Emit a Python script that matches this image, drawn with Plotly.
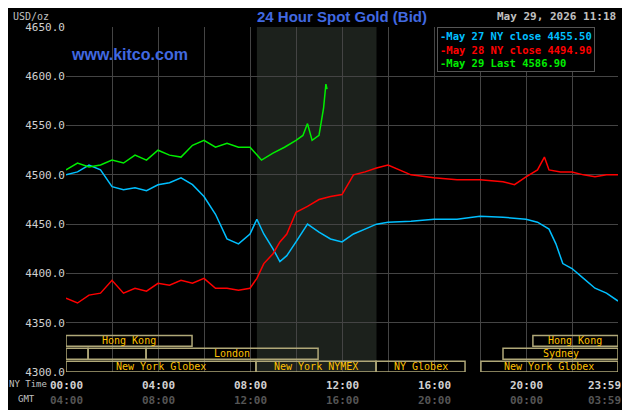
import plotly.graph_objects as go

hours_c = [0,0.5,1,1.5,2,2.5,3,3.5,4,4.5,5,5.5,6,6.5,7,7.5,8,8.3,8.6,9,9.3,9.6,10,10.5,11,11.5,12,12.5,13,13.5,14,15,16,17,18,19,20,20.5,21,21.3,21.6,22,22.5,23,23.5,24]
may27 = [4500,4503,4510,4505,4488,4485,4487,4484,4490,4492,4497,4490,4478,4460,4435,4430,4440,4455,4440,4425,4412,4418,4432,4450,4442,4435,4432,4440,4445,4450,4452,4453,4455,4455,4458,4457,4455,4452,4445,4430,4410,4405,4395,4385,4380,4372]
hours_r = [0,0.5,1,1.5,2,2.5,3,3.5,4,4.5,5,5.5,6,6.5,7,7.5,8,8.3,8.6,9,9.3,9.6,10,10.5,11,11.5,12,12.5,13,13.5,14,14.5,15,16,17,18,19,19.5,20,20.5,20.8,21,21.5,22,22.5,23,23.5,24]
may28 = [4375,4370,4378,4380,4393,4380,4385,4382,4390,4388,4393,4390,4395,4385,4385,4383,4385,4395,4410,4420,4432,4440,4462,4468,4475,4478,4480,4500,4503,4507,4510,4505,4500,4497,4495,4495,4493,4490,4498,4505,4518,4505,4503,4503,4500,4498,4500,4500]
hours_g = [0,0.5,1,1.5,2,2.5,3,3.5,4,4.5,5,5.5,6,6.5,7,7.5,8,8.5,9,9.5,10,10.3,10.5,10.7,11,11.2,11.3,11.35]
may29 = [4505,4512,4508,4510,4515,4512,4520,4515,4525,4520,4518,4530,4535,4528,4532,4528,4528,4515,4522,4528,4535,4540,4552,4535,4540,4568,4592,4587]

y_ticks = [4300,4350,4400,4450,4500,4550,4600,4650]
ny_labels = ["00:00","04:00","08:00","12:00","16:00","20:00","23:59"]
gmt_labels = ["04:00","08:00","12:00","16:00","20:00","00:00","03:59"]
label_pos = [0,4,8,12,16,20,24]

sessions = [  # (row, start, end, name)
    (0,0,5.48,"Hong Kong"),(0,20.3,24,"Hong Kong"),
    (1,0,0.96,""),(1,0.96,3.48,""),(1,3.48,10.96,"London"),(1,19,24,"Sydney"),
    (2,0,8.26,"New York Globex"),(2,8.26,13.48,"New York NYMEX"),(2,13.48,17.35,"NY Globex"),(2,18.04,24,"New York Globex"),
]

mono = "DejaVu Sans Mono"
fig = go.Figure()
fig.add_trace(go.Scatter(x=hours_c, y=may27, mode="lines", line=dict(color="#00bfff", width=1.5)))
fig.add_trace(go.Scatter(x=hours_r, y=may28, mode="lines", line=dict(color="#ff0000", width=1.5)))
fig.add_trace(go.Scatter(x=hours_g, y=may29, mode="lines", line=dict(color="#00ee00", width=1.5)))

shapes = [dict(type="rect", xref="x", yref="y", x0=8.3, x1=13.5, y0=4300, y1=4650,
               fillcolor="#1c211c", line_width=0, layer="below")]
row_y = [(4337,4326),(4324,4313),(4311,4300)]
ann = []
for r, s, e, n in sessions:
    y1, y0 = row_y[r]
    shapes.append(dict(type="rect", xref="x", yref="y", x0=s, x1=e, y0=y0, y1=y1,
                       line=dict(color="#b0a878", width=1.5), fillcolor="rgba(0,0,0,0)"))
    if n:
        ann.append(dict(x=(s+e)/2, y=(y0+y1)/2, text=n, showarrow=False, xref="x", yref="y",
                        font=dict(family=mono, size=10, color="#ffc000")))
for p, a, b in zip(label_pos, ny_labels, gmt_labels):
    xs = -14 if p == 24 else 0
    ann.append(dict(x=p, y=-0.015, xref="x", yref="paper", text="<b>"+a+"</b>", showarrow=False,
                    xshift=xs, xanchor="center", font=dict(family=mono, size=11, color="#d0d0d0"), yanchor="top"))
    ann.append(dict(x=p, y=-0.058, xref="x", yref="paper", text="<b>"+b+"</b>", showarrow=False,
                    xshift=xs, xanchor="center", font=dict(family=mono, size=11, color="#555555"), yanchor="top"))
ann += [
    dict(x=-0.107, y=-0.015, xref="paper", yref="paper", text="NY Time", showarrow=False, xanchor="left",
         yanchor="top", font=dict(family=mono, size=9, color="#c0c0c0")),
    dict(x=-0.09, y=-0.058, xref="paper", yref="paper", text="GMT", showarrow=False, xanchor="left",
         yanchor="top", font=dict(family=mono, size=9, color="#c0c0c0")),
]
fig.update_layout(
    width=622, height=402, paper_bgcolor="black", plot_bgcolor="black", showlegend=False,
    margin=dict(l=58, r=12, t=19, b=38),
    xaxis=dict(range=[0,24], tickvals=list(range(0,25,2)), showticklabels=False,
               gridcolor="#444444", showline=False, zeroline=False),
    yaxis=dict(range=[4300,4650], tickvals=y_ticks, tickformat=".1f", gridcolor="#444444",
               zeroline=False, tickfont=dict(family=mono, size=11, color="#d0d0d0"), ticks=""),
    shapes=shapes, annotations=ann,
)
fig.add_annotation(x=0.5, y=1.0, xref="paper", yref="paper", yshift=0, text="<b>24 Hour Spot Gold (Bid)</b>",
                   showarrow=False, yanchor="bottom", font=dict(family="Liberation Sans", size=15, color="#4169e1"))
fig.add_annotation(x=-0.1, y=1.0, xref="paper", yref="paper", yshift=3, text="USD/oz", showarrow=False,
                   xanchor="left", yanchor="bottom", font=dict(family=mono, size=10, color="#c0c0c0"))
fig.add_annotation(x=0.005, y=0.95, xref="paper", yref="paper", text="<b>www.kitco.com</b>", showarrow=False,
                   xanchor="left", yanchor="top", font=dict(family="Liberation Sans", size=16, color="#4169e1"))
fig.add_annotation(x=1.0, y=1.0, xref="paper", yref="paper", yshift=2, text="<b>May 29, 2026 11:18</b>",
                   showarrow=False, xanchor="right", yanchor="bottom", font=dict(family=mono, size=11, color="#c0c0c0"))
fig.add_annotation(x=0.672, y=1.0, xref="paper", yref="paper", align="left", xanchor="left", yanchor="top",
                   text="<b><span style='color:#00bfff'>-May 27 NY close 4455.50</span><br>"
                        "<span style='color:#ff0000'>-May 28 NY close 4494.90</span><br>"
                        "<span style='color:#00ee00'>-May 29 Last 4586.90</span></b>",
                   showarrow=False, bgcolor="black", bordercolor="#555555", borderwidth=1, borderpad=2,
                   font=dict(family=mono, size=10.5))
fig.write_html("out.html")
